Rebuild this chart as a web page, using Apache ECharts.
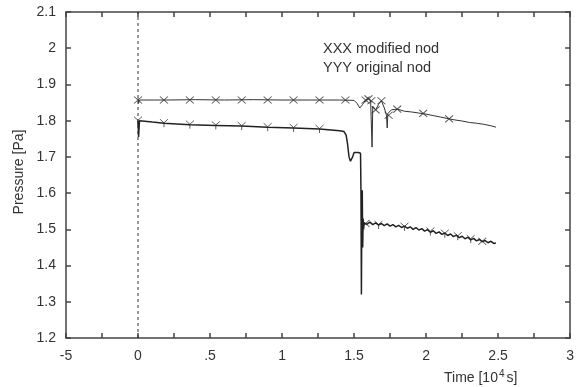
<!DOCTYPE html>
<html>
<head>
<meta charset="utf-8">
<script src="https://cdn.jsdelivr.net/npm/echarts@6/dist/echarts.min.js"></script>
<style>
  html, body { margin: 0; padding: 0; background: #fff; }
  #chart { width: 577px; height: 387px; }
</style>
</head>
<body>
<div id="chart"></div>
<script>
// axis ticks
const xTicks = [-0.5, 0, 0.5, 1, 1.5, 2, 2.5, 3];
const xTickLabels = ["-5", "0", ".5", "1", "1.5", "2", "2.5", "3"];

// modified nod (XXX) - [time 10^4 s, pressure Pa]
const modifiedLine = [
  [0, 1.862], [0.004, 1.848], [0.01, 1.857], [0.2, 1.857], [0.4, 1.858], [0.6, 1.857],
  [0.8, 1.858], [1.0, 1.857], [1.2, 1.857], [1.4, 1.857], [1.5, 1.856], [1.52, 1.848],
  [1.54, 1.835], [1.56, 1.845], [1.58, 1.857], [1.6, 1.86], [1.615, 1.855], [1.62, 1.85],
  [1.625, 1.727], [1.63, 1.84], [1.65, 1.83], [1.67, 1.845], [1.69, 1.855], [1.71, 1.835],
  [1.725, 1.815], [1.73, 1.78], [1.735, 1.82], [1.76, 1.83], [1.8, 1.832], [1.85, 1.826],
  [1.9, 1.824], [1.95, 1.821], [2.0, 1.818], [2.05, 1.814], [2.1, 1.81], [2.16, 1.805],
  [2.2, 1.802], [2.25, 1.799], [2.3, 1.795], [2.35, 1.793], [2.4, 1.79], [2.45, 1.786], [2.485, 1.782]
];
const modifiedMarks = [
  [0, 1.857], [0.18, 1.857], [0.36, 1.857], [0.54, 1.857], [0.72, 1.857], [0.9, 1.857],
  [1.08, 1.857], [1.26, 1.857], [1.44, 1.857], [1.58, 1.857], [1.6, 1.86], [1.62, 1.855],
  [1.65, 1.83], [1.69, 1.855], [1.74, 1.815], [1.8, 1.832], [1.98, 1.82], [2.16, 1.805],
  [1.58, 1.516], [2.39, 1.467]
];

// original nod (YYY)
const originalLine = [
  [0, 1.80], [0.004, 1.755], [0.01, 1.80], [0.1, 1.796], [0.18, 1.793], [0.36, 1.789],
  [0.54, 1.787], [0.72, 1.785], [0.9, 1.782], [1.08, 1.78], [1.26, 1.777], [1.4, 1.772],
  [1.43, 1.77], [1.445, 1.76], [1.455, 1.735], [1.465, 1.70], [1.475, 1.688], [1.49, 1.70],
  [1.5, 1.712], [1.53, 1.712], [1.545, 1.71], [1.548, 1.60], [1.551, 1.32], [1.554, 1.55],
  [1.557, 1.608], [1.56, 1.45], [1.563, 1.53], [1.566, 1.50],
  [1.57, 1.517], [1.59, 1.514], [1.61, 1.520], [1.63, 1.513], [1.65, 1.518], [1.67, 1.512],
  [1.69, 1.516], [1.71, 1.510], [1.73, 1.515], [1.75, 1.509], [1.77, 1.513], [1.79, 1.507],
  [1.81, 1.511], [1.83, 1.505], [1.85, 1.509], [1.87, 1.503], [1.89, 1.507], [1.91, 1.500],
  [1.93, 1.505], [1.95, 1.498], [1.97, 1.502], [1.99, 1.495], [2.01, 1.499], [2.03, 1.492],
  [2.05, 1.496], [2.07, 1.489], [2.09, 1.493], [2.11, 1.486], [2.13, 1.490], [2.15, 1.483],
  [2.17, 1.487], [2.19, 1.480], [2.21, 1.484], [2.23, 1.477], [2.25, 1.481], [2.27, 1.474],
  [2.29, 1.478], [2.31, 1.471], [2.33, 1.475], [2.35, 1.468], [2.37, 1.472], [2.39, 1.466],
  [2.41, 1.469], [2.43, 1.463], [2.45, 1.467], [2.47, 1.461], [2.485, 1.462]
];
const originalMarks = [
  [0, 1.80], [0.18, 1.793], [0.36, 1.789], [0.54, 1.787], [0.72, 1.785], [0.9, 1.782],
  [1.08, 1.78], [1.26, 1.777], [1.67, 1.512], [1.85, 1.507], [2.03, 1.494], [2.13, 1.488],
  [2.22, 1.481], [2.31, 1.473]
];

// dashed reference at t = 0
const zeroLine = [[0, 1.2], [0, 2.1]];

const ink = "#333";
const font = "'Liberation Sans', Arial, sans-serif";

const chart = echarts.init(document.getElementById("chart"));

const baseX = {
  type: "value", min: -0.5, max: 3, interval: 0.25,
  axisLine: { onZero: false, lineStyle: { color: "#444", width: 1.5 } },
  axisTick: { inside: true, length: 5, lineStyle: { color: "#444", width: 1.5 } },
  splitLine: { show: false }
};
const baseY = {
  type: "value", min: 1.2, max: 2.1, interval: 0.1,
  axisLine: { onZero: false, lineStyle: { color: "#444", width: 1.5 } },
  axisTick: { inside: true, length: 5, lineStyle: { color: "#444", width: 1.5 } },
  splitLine: { show: false }
};

chart.setOption({
  animation: false,
  backgroundColor: "#fff",
  grid: { left: 66, right: 3, top: 12, bottom: 49 },
  xAxis: [
    Object.assign({}, baseX, {
      position: "bottom",
      axisLabel: {
        color: ink, fontFamily: font, fontSize: 14, margin: 11,
        formatter: function (v) {
          const i = xTicks.findIndex(t => Math.abs(t - v) < 1e-6);
          return i >= 0 ? xTickLabels[i] : "";
        }
      }
    }),
    Object.assign({}, baseX, { position: "top", axisLabel: { show: false } })
  ],
  yAxis: [
    Object.assign({}, baseY, {
      position: "left",
      axisLabel: {
        color: ink, fontFamily: font, fontSize: 14, margin: 10,
        formatter: function (v) { return String(Math.round(v * 10) / 10); }
      }
    }),
    Object.assign({}, baseY, { position: "right", axisLabel: { show: false } })
  ],
  graphic: [
    {
      type: "text", x: 19, y: 172, rotation: Math.PI / 2,
      style: { text: "Pressure [Pa]", fill: ink, font: "14px " + font, align: "center", verticalAlign: "middle" }
    },
    {
      type: "text", x: 444, y: 369,
      style: {
        text: "{b|Time [10}{s|4}{b|s]}", fill: ink,
        rich: {
          b: { fontFamily: font, fontSize: 14, fill: ink, verticalAlign: "bottom" },
          s: { fontFamily: font, fontSize: 10, fill: ink, verticalAlign: "top", padding: [0, 2, 6, 1] }
        }
      }
    },
    {
      type: "text", x: 323, y: 41,
      style: { text: "XXX modified nod", fill: ink, font: "14.5px " + font }
    },
    {
      type: "text", x: 323, y: 60,
      style: { text: "YYY original nod", fill: ink, font: "14.5px " + font }
    }
  ],
  series: [
    {
      type: "line", data: zeroLine, showSymbol: false, silent: true,
      lineStyle: { color: ink, width: 1, type: [3, 3] }
    },
    {
      name: "modified", type: "line", data: modifiedLine, showSymbol: false,
      lineStyle: { color: ink, width: 1 }
    },
    {
      name: "original", type: "line", data: originalLine, showSymbol: false,
      lineStyle: { color: "#222", width: 1.5 }
    },
    {
      type: "scatter", data: modifiedMarks,
      symbol: "path://M0,0L10,10M10,0L0,10", symbolSize: [8, 7],
      itemStyle: { color: "none", borderColor: ink, borderWidth: 1 }
    },
    {
      type: "scatter", data: originalMarks,
      symbol: "path://M0,0L5,5L10,0M5,5L5,11", symbolSize: [8, 8],
      itemStyle: { color: "none", borderColor: ink, borderWidth: 1 }
    }
  ]
});
</script>
</body>
</html>
